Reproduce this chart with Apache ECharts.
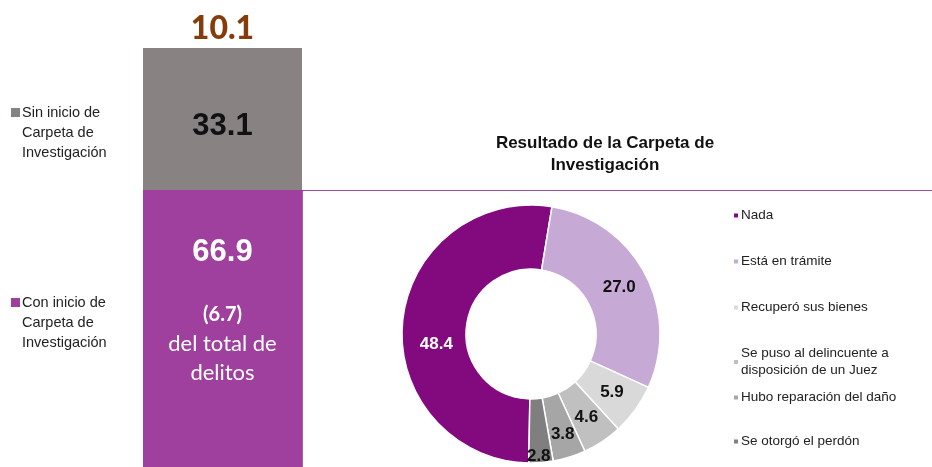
<!DOCTYPE html>
<html><head><meta charset="utf-8">
<script src="https://cdn.jsdelivr.net/npm/echarts@6/dist/echarts.min.js"></script>
<style>html,body{margin:0;padding:0;background:#fff}#c{width:932px;height:467px}</style>
</head><body><div id="c"></div>
<script>
// ---- data ----
const barCategories = ['Total'];
const barSeriesNames = ['Con inicio de Carpeta de Investigación', 'Sin inicio de Carpeta de Investigación'];
const conInicio = [66.9];
const sinInicio = [33.1];
const totalDelitosPct = [10.1];
const conInicioDelTotal = [6.7];
const pieTitle = 'Resultado de la Carpeta de\nInvestigación';
const pieNames = ['Nada', 'Está en trámite', 'Recuperó sus bienes', 'Se puso al delincuente a disposición de un Juez', 'Hubo reparación del daño', 'Se otorgó el perdón'];
const pieValues = [48.4, 27.0, 5.9, 4.6, 3.8, 2.8];

const pieColors = ['#820A7E', '#C7A9D5', '#D9D9D9', '#C0C0C0', '#A6A6A6', '#7F7F7F'];
const ARIAL = '"Liberation Sans", Arial, sans-serif';
const CAL = 'Lato, "Open Sans", sans-serif';

const pieData = pieNames.map((n, i) => ({
  name: n, value: pieValues[i],
  itemStyle: { color: pieColors[i] },
  label: i === 0 ? { color: '#fff' } : {}
}));

const chart = echarts.init(document.getElementById('c'), null, { renderer: 'canvas' });
const markerPath = 'path://M0,0h0.01v0.01h-0.01zM0,5h9v9h-9zM0,60h0.01v0.01h-0.01z';
chart.setOption({
  animation: false,
  title: {
    text: pieTitle, left: 600, top: 127, textAlign: 'center',
    textStyle: { fontFamily: ARIAL, fontSize: 17, fontWeight: 'bold', color: '#111', lineHeight: 22 }
  },
  grid: { left: 143, top: 48, width: 159, height: 429, outerBoundsMode: 'none', containLabel: false },
  xAxis: { type: 'category', data: barCategories, show: false },
  yAxis: { type: 'value', min: 0, max: 100, show: false },
  legend: [
    {
      data: [barSeriesNames[1]], left: 6, top: 98, orient: 'vertical',
      icon: markerPath, itemWidth: 9, itemHeight: 60, itemGap: 0,
      formatter: () => 'Sin inicio de\nCarpeta de\nInvestigación',
      textStyle: { fontFamily: ARIAL, fontSize: 14.5, color: '#222', lineHeight: 20, padding: [0, 0, 0, -3] }
    },
    {
      data: [barSeriesNames[0]], left: 6, top: 288, orient: 'vertical',
      icon: markerPath, itemWidth: 9, itemHeight: 60, itemGap: 0,
      formatter: () => 'Con inicio de\nCarpeta de\nInvestigación',
      textStyle: { fontFamily: ARIAL, fontSize: 14.5, color: '#222', lineHeight: 20, padding: [0, 0, 0, -3] }
    },
    {
      data: pieNames.slice(0, 4), left: 727, top: 202, orient: 'vertical',
      icon: 'rect', itemWidth: 6, itemHeight: 6, itemGap: 29,
      formatter: n => n === pieNames[3] ? 'Se puso al delincuente a\ndisposición de un Juez' : n,
      textStyle: { fontFamily: ARIAL, fontSize: 13.5, color: '#222', lineHeight: 17, padding: [0, 0, 0, -3] }
    },
    {
      data: pieNames.slice(4), left: 727, top: 384, orient: 'vertical',
      icon: 'rect', itemWidth: 6, itemHeight: 6, itemGap: 27,
      textStyle: { fontFamily: ARIAL, fontSize: 13.5, color: '#222', lineHeight: 17, padding: [0, 0, 0, -3] }
    }
  ],
  series: [
    {
      name: barSeriesNames[0], type: 'bar', stack: 'b', data: conInicio, barWidth: '100%',
      itemStyle: { color: '#A0409E' },
      label: {
        show: true, position: 'insideTop', distance: 44,
        formatter: p => '{a|' + p.value.toFixed(1) + '}\n{s| }\n{b|(' + conInicioDelTotal[0].toFixed(1) + ')}\n{c|del total de}\n{c|delitos}',
        rich: {
          a: { fontFamily: ARIAL, fontSize: 31, fontWeight: 'bold', color: '#fff', lineHeight: 36 },
          s: { fontSize: 10, lineHeight: 31 },
          b: { fontFamily: CAL, fontSize: 20, fontWeight: 'bold', color: '#fff', lineHeight: 28 },
          c: { fontFamily: CAL, fontSize: 22, color: '#fff', lineHeight: 29 }
        }
      }
    },
    {
      name: barSeriesNames[1], type: 'bar', stack: 'b', data: sinInicio, barWidth: '100%',
      itemStyle: { color: '#888282' },
      label: {
        show: true, position: 'inside', offset: [0, 7],
        formatter: p => p.value.toFixed(1),
        fontFamily: ARIAL, fontSize: 31, fontWeight: 'bold', color: '#111'
      }
    },
    {
      name: 'total', type: 'bar', stack: 'b', data: [0], barWidth: '100%',
      itemStyle: { color: 'transparent' },
      label: {
        show: true, position: 'top', distance: 3,
        formatter: () => totalDelitosPct[0].toFixed(1),
        fontFamily: CAL, fontSize: 32, fontWeight: 900, color: '#843C0C'
      }
    },
    {
      name: 'Resultado', type: 'pie', center: [531, 334], radius: [65, 129],
      startAngle: 269, clockwise: true, data: pieData,
      itemStyle: { borderColor: '#fff', borderWidth: 1.5 },
      label: { show: true, position: 'inside', formatter: p => p.value.toFixed(1),
        fontFamily: ARIAL, fontSize: 17, fontWeight: 'bold', color: '#111' },
      labelLine: { show: false },
      labelLayout: p => {
        if (p.dataIndex === 0) return { dx: 5, dy: 19 };
        if (p.dataIndex === 5) return { dx: 0, dy: 23 };
        if (p.dataIndex === 4) return { dx: 2, dy: 5 };
        return {};
      }
    }
  ],
  graphic: [
    { type: 'line', shape: { x1: 302, y1: 190.5, x2: 932, y2: 190.5 }, style: { stroke: '#A64CA6', lineWidth: 1 }, silent: true },
    { type: 'line', shape: { x1: 302, y1: 190, x2: 302, y2: 467 }, style: { stroke: '#8E2A8E', lineWidth: 1.5 }, silent: true }
  ]
});
</script></body></html>
